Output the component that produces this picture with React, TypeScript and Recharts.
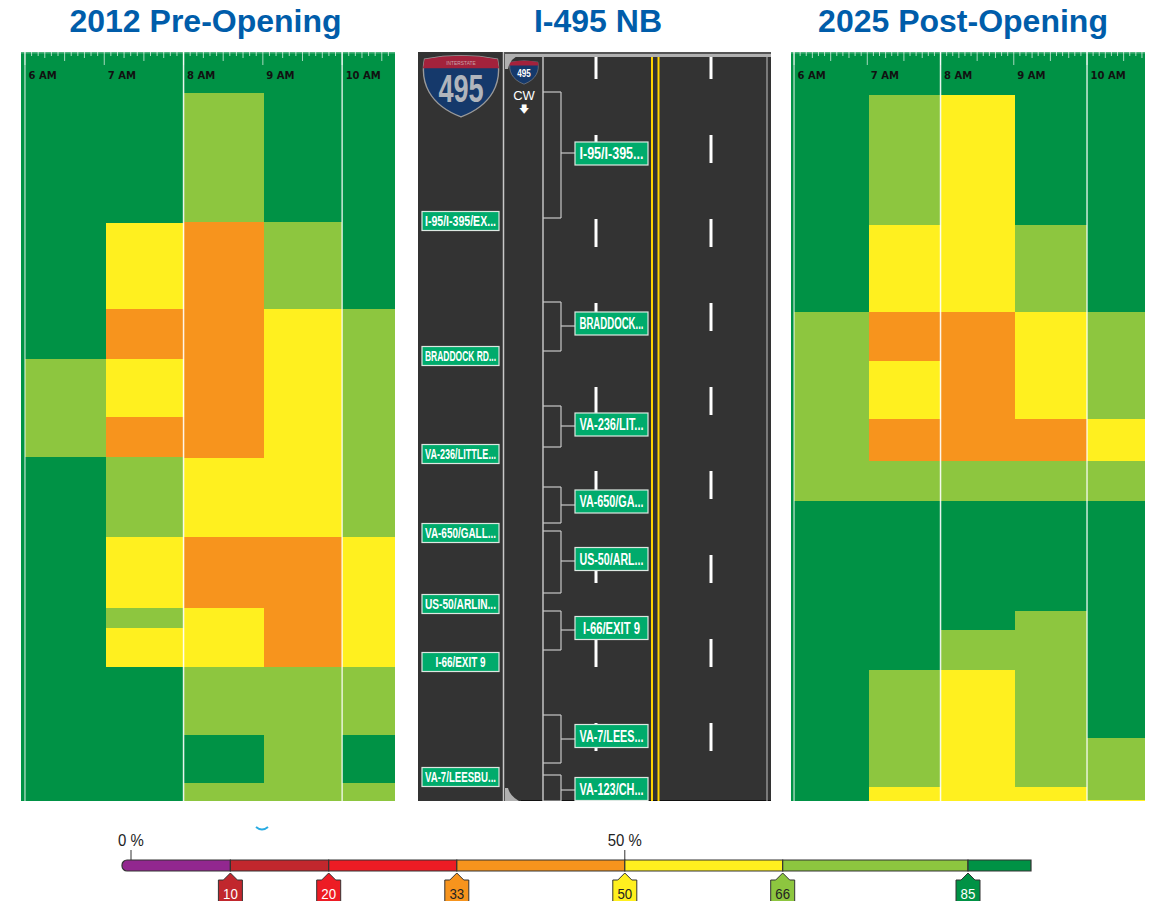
import React from 'react';
import {
  Bar,
  BarChart,
  ComposedChart,
  ReferenceArea,
  ReferenceLine,
  Scatter,
  XAxis,
  YAxis,
} from 'recharts';

// colours of the speed bands
const bandColors: Record<string, string> = {
  G: '#009245',
  L: '#8DC63F',
  Y: '#FFF01F',
  O: '#F7941D',
};

// column start, in minutes after 6 AM
const columnStarts = [0, 61, 120, 181, 240];
const rulerMarks = Array.from({ length: 58 }, (_, i) => ({ x: i * 5, y: 0 }));
const hourMarks = [
  { x: 0, y: 27, label: '6 AM' },
  { x: 60, y: 27, label: '7 AM' },
  { x: 120, y: 27, label: '8 AM' },
  { x: 180, y: 27, label: '9 AM' },
  { x: 240, y: 27, label: '10 AM' },
];

// each column: where a band ends along the corridor, and which band it is
const preEnds = [
  [307, 405, 749],
  [171, 257, 307, 365, 405, 485, 556, 576, 615, 749],
  [41, 170, 406, 485, 556, 615, 683, 731, 749],
  [170, 257, 485, 615, 749],
  [257, 485, 615, 683, 731, 749],
];
const preBands = ['GLG', 'GYOYOLYLYG', 'GLOYOYLGL', 'GLYOL', 'GLYLGL'];

const postEnds = [
  [260, 449, 749],
  [43, 173, 260, 309, 367, 409, 449, 618, 735, 749],
  [43, 260, 409, 449, 578, 618, 749],
  [173, 260, 367, 409, 449, 559, 735, 749],
  [260, 367, 409, 449, 686, 748, 749],
];
const postBands = ['GLG', 'GLYOYOLGLY', 'GYOLGLY', 'GLYOLGLY', 'GLYLGLY'];

// road diagram
const dashStarts = [5, 83, 167, 251, 335, 419, 503, 587, 671];
const dashEnds = [27, 111, 195, 279, 363, 447, 531, 615, 699];
const laneDashes = [178, 293];
const bracketTops = [40, 250, 354, 435, 479, 559, 663, 723];
const bracketBottoms = [166, 299, 395, 471, 541, 598, 711, 749];
const bracketStubs = [101, 274, 374, 453, 509, 578, 687, 738];

const roadSigns = [
  { x: 193.5, y: 101.5, label: 'I-95/I-395...' },
  { x: 193.5, y: 271.5, label: 'BRADDOCK...' },
  { x: 193.5, y: 372.5, label: 'VA-236/LIT...' },
  { x: 193.5, y: 449.5, label: 'VA-650/GA...' },
  { x: 193.5, y: 507, label: 'US-50/ARL...' },
  { x: 193.5, y: 576, label: 'I-66/EXIT 9' },
  { x: 193.5, y: 684, label: 'VA-7/LEES...' },
  { x: 193.5, y: 737, label: 'VA-123/CH...' },
];
const sideSigns = [
  { x: 42.5, y: 169, label: 'I-95/I-395/EX...' },
  { x: 42.5, y: 304, label: 'BRADDOCK RD...' },
  { x: 42.5, y: 402, label: 'VA-236/LITTLE...' },
  { x: 42.5, y: 481, label: 'VA-650/GALL...' },
  { x: 42.5, y: 552, label: 'US-50/ARLIN...' },
  { x: 42.5, y: 610, label: 'I-66/EXIT 9' },
  { x: 42.5, y: 725, label: 'VA-7/LEESBU...' },
];
const bigShield = [{ x: 43, y: 33 }];
const smallShield = [{ x: 106, y: 20 }];
const roadCorners = [{ x: 87, y: 0 }];

// legend
const legendRow = [{ name: 'speed', a: 10.84, b: 9.83, c: 12.81, d: 16.8, e: 15.79, f: 18.53, g: 6.3 }];
const legendKeys = ['a', 'b', 'c', 'd', 'e', 'f', 'g'];
const legendColors = ['#92278F', '#C1272D', '#ED1C24', '#F7941D', '#FFF01F', '#8DC63F', '#009245'];
const tagPositions = [10.84, 20.67, 33.48, 50.28, 66.07, 84.6];
const tagLabels = ['10', '20', '33', '50', '66', '85'];
const tagColors = ['#C1272D', '#ED1C24', '#F7941D', '#FFF01F', '#8DC63F', '#009245'];
const tagText = ['#fff', '#fff', '#222', '#222', '#222', '#fff'];
const topPositions = [0.9, 50.28];
const topLabels = ['0 %', '50 %'];

// text squeezed sideways, there is no narrow font installed
function NarrowText({ x, y, size, squeeze, bold, fill, children }: any) {
  return (
    <text
      transform={`translate(${x},${y}) scale(${squeeze},1)`}
      textAnchor="middle"
      fontFamily="Liberation Sans"
      fontWeight={bold ? 'bold' : 'normal'}
      fontSize={size}
      fill={fill}
    >
      {children}
    </text>
  );
}

function RulerTick({ cx, cy, payload }: any) {
  const m = payload.x;
  const len = m % 60 === 0 ? 13 : m % 30 === 0 ? 9 : m % 15 === 0 ? 6 : 4;
  return <line x1={cx} x2={cx} y1={cy} y2={cy + len} stroke="#fff" strokeOpacity={0.65} strokeWidth={1} />;
}

function HourLabel({ cx, cy, payload }: any) {
  return (
    <text x={cx + 3.5} y={cy} fontFamily="DejaVu Sans" fontWeight="bold" fontSize={10} fill="#111">
      {payload.label}
    </text>
  );
}

function HeatPanel({ left, width, maxMinute, minMinute, ends, bands }: any) {
  return (
    <div style={{ position: 'absolute', left, top: 52, width, height: 749 }}>
      <ComposedChart width={width} height={749} margin={{ top: 0, right: 0, bottom: 0, left: 0 }}>
        <XAxis type="number" dataKey="x" domain={[minMinute, maxMinute]} hide allowDataOverflow />
        <YAxis type="number" dataKey="y" domain={[0, 749]} reversed hide />
        <ReferenceArea
          x1={minMinute}
          x2={maxMinute}
          y1={0}
          y2={749}
          fill={bandColors.G}
          fillOpacity={1}
          stroke="none"
        />
        {ends.map((col: number[], c: number) =>
          col.map((end, i) => (
            <ReferenceArea
              key={`${c}-${i}`}
              x1={columnStarts[c]}
              x2={c === 4 ? maxMinute : columnStarts[c + 1]}
              y1={i === 0 ? 0 : col[i - 1]}
              y2={end}
              fill={bandColors[bands[c][i]]}
              fillOpacity={1}
              stroke="none"
              shapeRendering="crispEdges"
            />
          )),
        )}
        <ReferenceArea x1={minMinute} x2={maxMinute} y1={0} y2={1.5} fill="#fff" fillOpacity={0.3} stroke="none" />
        <ReferenceLine x={0} stroke="#fff" strokeOpacity={0.6} strokeWidth={1.5} />
        <ReferenceLine x={120} stroke="#fff" strokeOpacity={0.9} strokeWidth={1.5} />
        <ReferenceLine x={240} stroke="#fff" strokeOpacity={0.8} strokeWidth={1.5} />
        <Scatter
          data={rulerMarks.filter((m) => m.x < maxMinute)}
          isAnimationActive={false}
          shape={<RulerTick />}
        />
        <Scatter data={hourMarks} isAnimationActive={false} shape={<HourLabel />} />
      </ComposedChart>
    </div>
  );
}

function SignBox({ cx, cy, payload, w, h, size, fit, fitShort }: any) {
  const long = payload.label.endsWith('...');
  return (
    <g>
      <rect x={cx - w / 2} y={cy - h / 2} width={w} height={h} fill="#00AB6C" stroke="#DDE8E2" strokeWidth={1.2} />
      <text
        x={cx}
        y={cy + size * 0.36}
        textAnchor="middle"
        fontFamily="Liberation Sans"
        fontWeight="bold"
        fontSize={size}
        fill="#fff"
        textLength={long ? fit : fitShort}
        lengthAdjust="spacingAndGlyphs"
      >
        {payload.label}
      </text>
    </g>
  );
}

function Shield({ cx, cy, k, big }: any) {
  return (
    <g transform={`translate(${cx - 50 * k},${cy - 40 * k}) scale(${k})`}>
      <path
        d="M2,6 Q50,-3 98,6 C104,36 92,66 50,82 C8,66 -4,36 2,6 Z"
        fill="#15396B"
        stroke="#9A9A9A"
        strokeWidth={1.8}
      />
      <path d="M2,6 Q50,-3 98,6 L100,18 L0,18 Z" fill="#A3223C" />
      {big && (
        <NarrowText x={50} y={14} size={8} squeeze={0.8} fill="#C9A3AA">
          INTERSTATE
        </NarrowText>
      )}
      <NarrowText x={50} y={big ? 62 : 56} size={big ? 51 : 40} squeeze={0.7} bold fill={big ? '#B0B5BC' : '#fff'}>
        495
      </NarrowText>
    </g>
  );
}

function RoadCorners({ cx, cy }: any) {
  return (
    <g>
      <path d={`M${cx},${cy + 2} L${cx + 16},${cy + 2} Q${cx + 5},${cy + 6} ${cx + 3},${cy + 17} L${cx},${cy + 17} Z`} fill="#B0B0B0" />
      <path d={`M${cx},${cy + 736} L${cx + 3},${cy + 736} Q${cx + 5},${cy + 744} ${cx + 14},${cy + 749} L${cx},${cy + 749} Z`} fill="#B0B0B0" />
    </g>
  );
}

function RoadPanel() {
  return (
    <div style={{ position: 'absolute', left: 418, top: 52, width: 353, height: 749 }}>
      <ComposedChart width={353} height={749} margin={{ top: 0, right: 0, bottom: 0, left: 0 }}>
        <XAxis type="number" dataKey="x" domain={[0, 353]} hide />
        <YAxis type="number" dataKey="y" domain={[0, 749]} reversed hide />
        <ReferenceArea x1={0} x2={353} y1={0} y2={749} fill="#333333" fillOpacity={1} stroke="none" />
        <ReferenceLine x={85.5} stroke="#C8C8C8" strokeWidth={1.5} />
        <ReferenceLine segment={[{ x: 125, y: 5 }, { x: 125, y: 749 }]} stroke="#E8E8E8" strokeWidth={1.2} />
        <ReferenceLine segment={[{ x: 349, y: 5 }, { x: 349, y: 749 }]} stroke="#AAAAAA" strokeWidth={1.2} />
        <ReferenceArea x1={87} x2={353} y1={2} y2={5} fill="#B0B0B0" fillOpacity={1} stroke="none" />
        <ReferenceArea x1={87} x2={353} y1={0} y2={2} fill="#555" fillOpacity={1} stroke="none" />
        <ReferenceArea x1={103} x2={353} y1={748} y2={749} fill="#111" fillOpacity={1} stroke="none" />
        <ReferenceLine segment={[{ x: 234, y: 5 }, { x: 234, y: 749 }]} stroke="#FFD400" strokeWidth={2} />
        <ReferenceLine segment={[{ x: 240.5, y: 5 }, { x: 240.5, y: 749 }]} stroke="#FFD400" strokeWidth={2} />
        {laneDashes.map((lane) =>
          dashStarts.map((s, i) => (
            <ReferenceLine
              key={`${lane}-${s}`}
              segment={[{ x: lane, y: s }, { x: lane, y: dashEnds[i] }]}
              stroke="#fff"
              strokeWidth={3}
            />
          )),
        )}
        {bracketTops.map((top, i) => (
          <React.Fragment key={top}>
            <ReferenceLine segment={[{ x: 125, y: top }, { x: 143, y: top }]} stroke="#C8C8C8" strokeWidth={1.2} />
            <ReferenceLine
              segment={[{ x: 125, y: bracketBottoms[i] }, { x: 143, y: bracketBottoms[i] }]}
              stroke="#C8C8C8"
              strokeWidth={1.2}
            />
            <ReferenceLine
              segment={[{ x: 143, y: top }, { x: 143, y: bracketBottoms[i] }]}
              stroke="#C8C8C8"
              strokeWidth={1.2}
            />
            <ReferenceLine
              segment={[{ x: 143, y: bracketStubs[i] }, { x: 158, y: bracketStubs[i] }]}
              stroke="#C8C8C8"
              strokeWidth={1.2}
            />
          </React.Fragment>
        ))}
        <Scatter
          data={roadSigns}
          isAnimationActive={false}
          shape={(p: any) => <SignBox {...p} w={73} h={23} size={16} fit={64} fitShort={57} />}
        />
        <Scatter
          data={sideSigns}
          isAnimationActive={false}
          shape={(p: any) => <SignBox {...p} w={77} h={19} size={14.5} fit={71} fitShort={50} />}
        />
        <Scatter data={bigShield} isAnimationActive={false} shape={(p: any) => <Shield {...p} k={0.76} big />} />
        <Scatter data={smallShield} isAnimationActive={false} shape={(p: any) => <Shield {...p} k={0.29} />} />
        <Scatter data={roadCorners} isAnimationActive={false} shape={<RoadCorners />} />
      </ComposedChart>
      <div
        style={{
          position: 'absolute',
          left: 91,
          top: 37,
          width: 30,
          textAlign: 'center',
          color: '#fff',
          font: '13px "Liberation Sans"',
          lineHeight: '13px',
        }}
      >
        CW
        <br />
        <span style={{ fontSize: 10 }}>🡇</span>
      </div>
    </div>
  );
}

function LegendTick({ x, y, payload }: any) {
  const tag = tagPositions.indexOf(payload.value);
  const top = topPositions.indexOf(payload.value);
  return (
    <g>
      {top >= 0 && (
        <g>
          <line x1={x} x2={x} y1={y - 21} y2={y - 11} stroke="#333" />
          <NarrowText x={x} y={y - 25} size={17} squeeze={0.88} fill="#222">
            {topLabels[top]}
          </NarrowText>
        </g>
      )}
      {tag >= 0 && (
        <g>
          <path
            d={`M${x},${y + 2} L${x + 7},${y + 9} L${x + 12},${y + 9} L${x + 12},${y + 34} L${x - 12},${y + 34} L${x - 12},${y + 9} L${x - 7},${y + 9} Z`}
            fill={tagColors[tag]}
            stroke="#333"
            strokeWidth={1}
          />
          <NarrowText x={x} y={y + 28} size={14} squeeze={0.95} fill={tagText[tag]}>
            {tagLabels[tag]}
          </NarrowText>
        </g>
      )}
    </g>
  );
}

function SpeedLegend() {
  return (
    <div style={{ position: 'absolute', left: 92, top: 820, width: 940, height: 81 }}>
      <BarChart
        width={940}
        height={81}
        layout="vertical"
        data={legendRow}
        barCategoryGap={0}
        margin={{ top: 40, right: 0, bottom: 0, left: 30 }}
      >
        <XAxis
          type="number"
          domain={[0, 91]}
          orientation="bottom"
          ticks={[topPositions[0], ...tagPositions]}
          interval={0}
          height={30}
          axisLine={false}
          tickLine={false}
          tickSize={0}
          tickMargin={0}
          tick={<LegendTick />}
        />
        <YAxis type="category" dataKey="name" hide />
        {legendKeys.map((k, i) => (
          <Bar
            key={k}
            dataKey={k}
            stackId="speed"
            fill={legendColors[i]}
            stroke="#333"
            strokeWidth={1.2}
            radius={i === 0 ? [5, 0, 0, 5] : 0}
            isAnimationActive={false}
          />
        ))}
      </BarChart>
    </div>
  );
}

const titleStyle = (center: number): React.CSSProperties => ({
  position: 'absolute',
  left: center - 200,
  top: 2,
  width: 400,
  textAlign: 'center',
  color: '#005DAA',
  font: 'bold 32px "Liberation Sans"',
  lineHeight: '38px',
});

export default function App() {
  return (
    <div style={{ position: 'absolute', left: 0, top: 0, width: 1152, height: 901, overflow: 'hidden', background: '#fff' }}>
      <div style={titleStyle(205.5)}>2012 Pre-Opening</div>
      <div style={titleStyle(598)}>I-495 NB</div>
      <div style={titleStyle(963)}>2025 Post-Opening</div>
      <HeatPanel left={21} width={374} minMinute={-3} maxMinute={280} ends={preEnds} bands={preBands} />
      <RoadPanel />
      <HeatPanel left={791} width={354} minMinute={-2.5} maxMinute={287.5} ends={postEnds} bands={postBands} />
      <svg style={{ position: 'absolute', left: 250, top: 822, width: 24, height: 12 }}>
        <path d="M6,5 Q12,10 18,5" fill="none" stroke="#29ABE2" strokeWidth={2} />
      </svg>
      <SpeedLegend />
    </div>
  );
}
